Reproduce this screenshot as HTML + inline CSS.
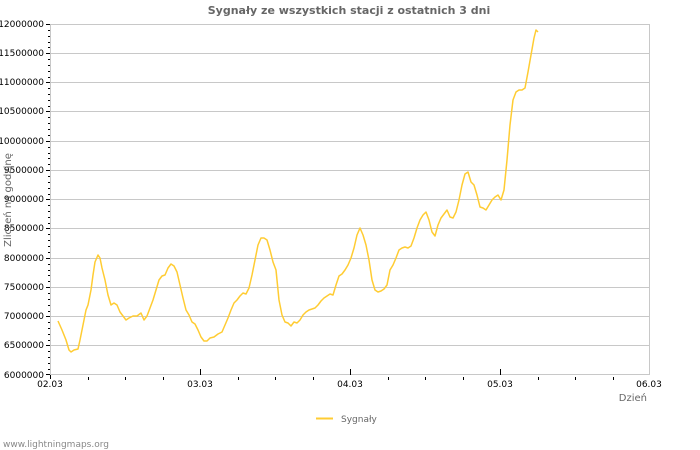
<!DOCTYPE html>
<html><head><meta charset="utf-8"><style>body{margin:0;background:#fff}svg{display:block}</style></head><body>
<svg width="700" height="450" xmlns="http://www.w3.org/2000/svg" font-family="DejaVu Sans, Liberation Sans, sans-serif">
<rect width="700" height="450" fill="#fff"/>
<text x="349" y="14" text-anchor="middle" font-size="11" font-weight="bold" fill="#666">Sygnały ze wszystkich stacji z ostatnich 3 dni</text>
<g stroke="#c8c8c8" stroke-width="1">
<line x1="50" y1="24.5" x2="650" y2="24.5"/><line x1="50" y1="53.5" x2="650" y2="53.5"/><line x1="50" y1="82.5" x2="650" y2="82.5"/><line x1="50" y1="111.5" x2="650" y2="111.5"/><line x1="50" y1="141.5" x2="650" y2="141.5"/><line x1="50" y1="170.5" x2="650" y2="170.5"/><line x1="50" y1="199.5" x2="650" y2="199.5"/><line x1="50" y1="228.5" x2="650" y2="228.5"/><line x1="50" y1="258.5" x2="650" y2="258.5"/><line x1="50" y1="287.5" x2="650" y2="287.5"/><line x1="50" y1="316.5" x2="650" y2="316.5"/><line x1="50" y1="345.5" x2="650" y2="345.5"/>
<line x1="50.5" y1="24" x2="50.5" y2="375"/><line x1="649.5" y1="24" x2="649.5" y2="375"/><line x1="50" y1="374.5" x2="650" y2="374.5"/>
</g>
<g stroke="#000" stroke-width="1" id="yt"></g>
<g stroke="#000" stroke-width="1" id="xt"></g>
<g font-size="9" fill="#000" text-anchor="end">
<text x="44" y="27">12000000</text><text x="44" y="56">11500000</text><text x="44" y="85">11000000</text><text x="44" y="114">10500000</text><text x="44" y="144">10000000</text><text x="44" y="173">9500000</text><text x="44" y="202">9000000</text><text x="44" y="231">8500000</text><text x="44" y="261">8000000</text><text x="44" y="290">7500000</text><text x="44" y="319">7000000</text><text x="44" y="348">6500000</text><text x="44" y="378">6000000</text>
</g>
<g font-size="9" fill="#000" text-anchor="middle">
<text x="50" y="387">02.03</text><text x="200" y="387">03.03</text><text x="350" y="387">04.03</text><text x="500" y="387">05.03</text><text x="649" y="387">06.03</text>
</g>
<text x="647" y="401" font-size="10" fill="#666" text-anchor="end">Dzień</text>
<text transform="translate(11,200) rotate(-90)" font-size="10" fill="#666" text-anchor="middle">Zliczeń na godzinę</text>
<line x1="316" y1="418.5" x2="333" y2="418.5" stroke="#ffcc33" stroke-width="2"/>
<text x="341" y="422" font-size="9" fill="#666">Sygnały</text>
<text x="3" y="447" font-size="9" fill="#888">www.lightningmaps.org</text>
<polyline fill="none" stroke="#ffcc33" stroke-width="1.5" stroke-linejoin="round" points="58,321 62,330 66,340 69,350 71,352 74,350 78,349 80,340 83,325 86,310 88,305 91,290 93,275 95,262 98,255 100,258 102,268 105,280 108,295 111,305 114,303 117,305 120,312 123,316 126,320 129,318 133,316 137,316 141,313 144,320 147,316 150,308 153,300 156,290 159,280 162,276 165,275 168,268 171,264 174,266 177,272 180,285 183,298 186,310 189,315 192,322 195,324 198,330 201,337 204,341 207,341 210,338 214,337 218,334 222,332 225,325 228,318 231,310 234,303 237,300 240,296 243,293 246,294 249,288 252,275 255,260 258,245 261,238 264,238 267,240 270,250 273,262 276,270 279,300 282,315 285,322 288,323 291,326 294,322 297,323 300,320 303,315 306,312 309,310 312,309 315,308 318,305 321,301 324,298 327,296 330,294 333,295 336,285 339,276 342,274 345,270 348,265 351,258 354,248 357,235 360,228 363,235 366,245 369,260 372,280 375,290 378,292 381,291 384,289 387,285 390,270 393,265 396,258 399,250 402,248 405,247 408,248 411,246 414,238 417,228 420,220 423,215 426,212 429,220 432,232 435,236 438,225 441,218 444,214 447,210 450,217 453,218 456,212 459,200 462,185 465,174 468,172 471,182 474,185 477,195 480,207 483,208 486,210 489,205 492,200 495,197 498,195 501,200 504,190 507,160 510,125 513,100 516,92 519,90 522,90 525,88 528,72 531,55 534,38 536,30 538,32"/>
<path stroke="#000" stroke-width="1" fill="none" d="M46,24.5h4M46,53.5h4M46,82.5h4M46,111.5h4M46,141.5h4M46,170.5h4M46,199.5h4M46,228.5h4M46,258.5h4M46,287.5h4M46,316.5h4M46,345.5h4M46,374.5h4
M48,30.5h2M48,36.5h2M48,42.5h2M48,47.5h2M48,59.5h2M48,65.5h2M48,71.5h2M48,77.5h2M48,88.5h2M48,94.5h2M48,100.5h2M48,106.5h2M48,117.5h2M48,123.5h2M48,129.5h2M48,135.5h2M48,147.5h2M48,153.5h2M48,158.5h2M48,164.5h2M48,176.5h2M48,182.5h2M48,188.5h2M48,194.5h2M48,205.5h2M48,211.5h2M48,217.5h2M48,223.5h2M48,234.5h2M48,240.5h2M48,246.5h2M48,252.5h2M48,264.5h2M48,270.5h2M48,275.5h2M48,281.5h2M48,293.5h2M48,299.5h2M48,305.5h2M48,311.5h2M48,322.5h2M48,328.5h2M48,334.5h2M48,340.5h2M48,351.5h2M48,357.5h2M48,363.5h2M48,369.5h2
M50.5,375v4M200.5,369v6M350.5,369v6M500.5,369v6M88.5,377v3M125.5,377v3M163.5,377v3M238.5,377v3M275.5,377v3M313.5,377v3M388.5,377v3M425.5,377v3M463.5,377v3M538.5,377v3M575.5,377v3M613.5,377v3"/>
</svg>
</body></html>
